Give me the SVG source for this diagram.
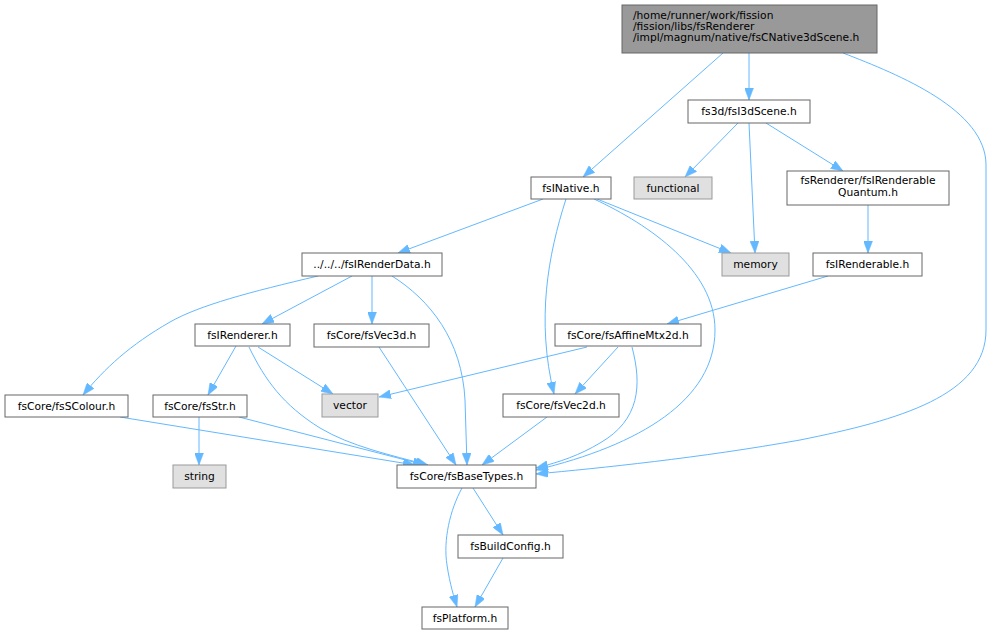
<svg xmlns="http://www.w3.org/2000/svg" width="992" height="635" viewBox="0 0 992 635">
<defs>
<marker id="ah" markerUnits="userSpaceOnUse" markerWidth="12" markerHeight="9" viewBox="0 0 12 9" refX="12" refY="4.5" orient="auto">
<path d="M0,0 L12,4.5 L0,9 z" fill="#63b8ff" stroke="#63b8ff" stroke-width="0.5"/>
</marker>
</defs>
<style>
.n rect{fill:#ffffff;stroke:#666666;stroke-width:1}
.x rect{fill:#e0e0e0;stroke:#999999;stroke-width:1}
.r rect{fill:#999999;stroke:#666666;stroke-width:1}
text{font-family:"DejaVu Sans","Liberation Sans",sans-serif;font-size:10.7px;fill:#000000}
.c{text-anchor:middle}
#edges path{fill:none;stroke:#63b8ff;stroke-width:1;marker-end:url(#ah)}
</style>
<rect width="992" height="635" fill="#ffffff"/>
<g id="edges">
<path d="M723,53 L583,177"/>
<path d="M749,53 L749,100"/>
<path d="M843,53 C900,75 986,110 986,165 L986,330 C986,395 900,420 800,440 C700,458 600,468 536,474"/>
<path d="M738,123 L685,177"/>
<path d="M749,123 L755,253"/>
<path d="M766,123 L843,171"/>
<path d="M868,205 L868,253"/>
<path d="M828,276 L667,324"/>
<path d="M543,199 L398,253"/>
<path d="M566,199 C548,255 536,320 554,394"/>
<path d="M594,199 C650,225 715,270 715,330 C715,400 640,445 536,470"/>
<path d="M597,199 L731,253"/>
<path d="M318,276 C250,292 200,305 170,322 C130,345 105,368 83,395"/>
<path d="M352,276 L262,324"/>
<path d="M372,276 L372,324"/>
<path d="M392,276 C430,300 462,340 465,400 L467,465"/>
<path d="M236,346 L208,395"/>
<path d="M258,347 L333,394"/>
<path d="M249,347 C265,380 283,405 320,428 C350,446 390,455 428,465"/>
<path d="M379,347 L456,465"/>
<path d="M587,347 L379,397"/>
<path d="M618,347 L575,394"/>
<path d="M632,347 C642,385 640,420 600,443 C580,455 560,462 536,468"/>
<path d="M547,417 L482,465"/>
<path d="M120,417 L415,465"/>
<path d="M239,417 L425,465"/>
<path d="M199,417 L199,465"/>
<path d="M473,488 L503,535"/>
<path d="M462,488 C450,510 443,540 447,565 C450,585 454,597 457,607"/>
<path d="M503,558 L475,607"/>
</g>
<g id="root" class="r"><rect x="622" y="5" width="255" height="48"/>
<text x="633" y="18.5">/home/runner/work/fission</text>
<text x="633" y="29.8">/fission/libs/fsRenderer</text>
<text x="633" y="41">/impl/magnum/native/fsCNative3dScene.h</text></g>
<g id="n_fsI3dScene" class="n"><rect x="688" y="100" width="122" height="23"/><text class="c" x="749" y="115">fs3d/fsI3dScene.h</text></g>
<g id="n_fsINative" class="n"><rect x="531" y="177" width="80" height="22"/><text class="c" x="571" y="192">fsINative.h</text></g>
<g id="n_functional" class="x"><rect x="634" y="177" width="78" height="22"/><text class="c" x="673" y="192">functional</text></g>
<g id="n_quantum" class="n"><rect x="787" y="171" width="162" height="34"/><text class="c" x="868" y="184">fsRenderer/fsIRenderable</text><text class="c" x="868" y="195.5">Quantum.h</text></g>
<g id="n_memory" class="x"><rect x="722" y="253" width="67" height="23"/><text class="c" x="755.5" y="268">memory</text></g>
<g id="n_fsIRenderable" class="n"><rect x="813" y="253" width="109" height="23"/><text class="c" x="867.5" y="268">fsIRenderable.h</text></g>
<g id="n_renderdata" class="n"><rect x="302" y="253" width="140" height="23"/><text class="c" x="372" y="268">../../../fsIRenderData.h</text></g>
<g id="n_fsIRenderer" class="n"><rect x="195" y="324" width="95" height="22"/><text class="c" x="242.5" y="339">fsIRenderer.h</text></g>
<g id="n_fsVec3d" class="n"><rect x="314" y="324" width="115" height="23"/><text class="c" x="371.5" y="339">fsCore/fsVec3d.h</text></g>
<g id="n_affine" class="n"><rect x="555" y="324" width="146" height="22"/><text class="c" x="628" y="339">fsCore/fsAffineMtx2d.h</text></g>
<g id="n_vector" class="x"><rect x="322" y="394" width="56" height="23"/><text class="c" x="350" y="409">vector</text></g>
<g id="n_fsVec2d" class="n"><rect x="503" y="394" width="116" height="23"/><text class="c" x="561" y="409">fsCore/fsVec2d.h</text></g>
<g id="n_colour" class="n"><rect x="5" y="395" width="123" height="22"/><text class="c" x="66.5" y="410">fsCore/fsSColour.h</text></g>
<g id="n_fsStr" class="n"><rect x="153" y="395" width="94" height="22"/><text class="c" x="200" y="410">fsCore/fsStr.h</text></g>
<g id="n_string" class="x"><rect x="173" y="465" width="53" height="23"/><text class="c" x="199.5" y="480">string</text></g>
<g id="n_basetypes" class="n"><rect x="397" y="465" width="139" height="23"/><text class="c" x="466.5" y="480">fsCore/fsBaseTypes.h</text></g>
<g id="n_buildconfig" class="n"><rect x="458" y="535" width="105" height="23"/><text class="c" x="510.5" y="550">fsBuildConfig.h</text></g>
<g id="n_platform" class="n"><rect x="422" y="607" width="86" height="22"/><text class="c" x="465" y="622">fsPlatform.h</text></g>
</svg>
